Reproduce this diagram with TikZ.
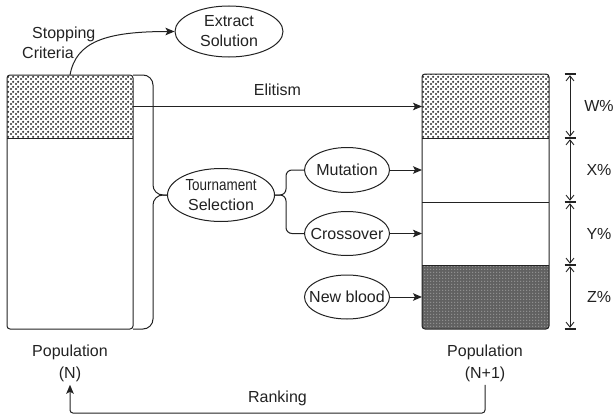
\documentclass[tikz,border=0pt]{standalone}
\usepackage{fontspec}
\setmainfont{Liberation Sans}
\usepackage{graphicx}
\usetikzlibrary{shapes.geometric,arrows.meta,patterns,calc}
\definecolor{ink}{HTML}{222222}
\pgfdeclarepatternformonly{bigdots}{\pgfpointorigin}{\pgfpoint{5pt}{5pt}}{\pgfpoint{5pt}{5pt}}{%
  \pgfpathcircle{\pgfpoint{1.25pt}{1.25pt}}{1.35pt}%
  \pgfpathcircle{\pgfpoint{3.75pt}{3.75pt}}{1.35pt}%
  \pgfusepath{fill}}
\pgfdeclarepatternformonly{specks}{\pgfpointorigin}{\pgfpoint{2.6pt}{2.6pt}}{\pgfpoint{2.6pt}{2.6pt}}{%
  \pgfpathrectangle{\pgfpoint{0.4pt}{0.4pt}}{\pgfpoint{1pt}{1pt}}%
  \pgfusepath{fill}}
\tikzset{
  every node/.style={text=ink, font=\fontsize{16}{20}\selectfont},
  ln/.style={draw=ink, line width=1pt},
  arr/.style={ln, -{Stealth[length=9pt,width=7.5pt,inset=2pt]}},
  dim/.style={draw=ink, line width=0.9pt, {Straight Barb[length=5pt,width=8pt]}-{Straight Barb[length=5pt,width=8pt]}, shorten >=1.2pt, shorten <=1.2pt},
  ell/.style={ellipse, draw=ink, line width=1pt, fill=white, inner xsep=-20pt, inner ysep=-5pt, align=center},
  sec/.style={rectangle, inner sep=0pt, outer sep=0pt},
  boxline/.style={rectangle, draw=ink, line width=1pt, rounded corners=3pt, inner sep=0pt, outer sep=0pt},
  dotpat/.style={pattern=bigdots, pattern color=black!80},
  zpat/.style={preaction={fill=black!62}, pattern=specks, pattern color=white!80!black},
  pop/.style={align=center, font=\fontsize{16}{22}\selectfont, inner sep=2.5pt},
}
\begin{document}
\begin{tikzpicture}[x=1pt, y=-1pt]
\useasboundingbox (0,0) rectangle (616,415);

% ---- left population box
\begin{scope}
\clip[rounded corners=3pt] (7,75) rectangle (133,329);
\node[sec, dotpat, minimum width=126pt, minimum height=63pt] (LW) at (70,106.5) {};
\end{scope}
\node[boxline, minimum width=126pt, minimum height=254pt] (L) at (70,202) {};
\draw[ln] (LW.south west) -- (LW.south east);

% ---- right population box
\begin{scope}
\clip[rounded corners=3pt] (422,74) rectangle (549,329);
\node[sec, dotpat, minimum width=127pt, minimum height=64pt] (RW) at (485.5,106) {};
\node[sec, minimum width=127pt, minimum height=64pt] (RX) at (485.5,170) {};
\node[sec, minimum width=127pt, minimum height=63pt] (RY) at (485.5,233.5) {};
\node[sec, zpat, minimum width=127pt, minimum height=64pt] (RZ) at (485.5,297) {};
\end{scope}
\node[boxline, minimum width=127pt, minimum height=255pt] (R) at (485.5,201.5) {};
\draw[ln] (RW.south west) -- (RW.south east);
\draw[ln] (RX.south west) -- (RX.south east);
\draw[ln] (RY.south west) -- (RY.south east);

% ---- ellipses
\node[ell, minimum width=108pt, minimum height=51pt] (ext) at (229,31.5) {Extract\\Solution};
\node[ell, minimum width=107pt, minimum height=53pt] (tour) at (221,195) {\scalebox{0.84}[1]{Tournament}\\Selection};
\node[ell, minimum width=85pt, minimum height=45pt] (mut) at (347,170) {Mutation};
\node[ell, minimum width=85pt, minimum height=44pt] (cross) at (347,233.5) {Crossover};
\node[ell, minimum width=85pt, minimum height=44pt] (newb) at (347,297) {New blood};

% ---- stopping criteria
\node[align=left, anchor=west, inner sep=0pt] (stop) at (22,43) {\hspace*{10pt}Stopping\\Criteria};
\draw[arr] (L.north) .. controls (76,42) and (105,31.5) .. (ext.west);

% ---- elitism
\draw[arr] (LW.east) -- (LW.east -| RW.west) node[midway, above=6pt, inner sep=4pt] (elit) {Elitism};

% ---- brace to tournament selection
\coordinate (bt) at ([xshift=-14pt]tour.west);
\draw[ln, rounded corners=10pt] (L.north east) -| (bt) -- (tour.west);
\draw[ln, rounded corners=10pt] (tour.west) -- (bt) |- (L.south east);

% ---- fork to mutation and crossover
\coordinate (mt) at ([xshift=11pt]tour.east);
\draw[ln, rounded corners=6pt] (tour.east) -- (mt) |- (mut.west);
\draw[ln, rounded corners=6pt] (tour.east) -- (mt) |- (cross.west);

% ---- operators into new population
\draw[arr] (mut) -- (RX);
\draw[arr] (cross) -- (RY);
\draw[arr] (newb) -- (RZ);

% ---- population labels and ranking
\node[pop] (pn) at (70,363.6) {Population\\(N)};
\node[pop] (pn1) at (485,363.6) {Population\\(N+1)};
\draw[arr, rounded corners=3pt] (pn1.south) -- ++(0,28.3) -| (pn.south) node[pos=0.25, above=3pt, inner sep=4pt] (rank) {Ranking};

% ---- dimension ticks
\foreach \y/\w [count=\i from 0] in {74/1.5, 138/2, 202/2, 265/2, 329/1.5} {
  \coordinate (t\i) at (570,\y);
  \draw[draw=ink, line width=\w pt] ([xshift=-5.5pt]t\i) -- ([xshift=5.5pt]t\i);
}
\foreach \a/\b in {0/1,1/2,2/3,3/4} { \draw[dim] (t\a) -- (t\b); }

\node (wp) at (599,106) {W\%};
\node (xp) at (599,170) {X\%};
\node (yp) at (599,233.5) {Y\%};
\node (zp) at (599,297) {Z\%};
\end{tikzpicture}
\end{document}
